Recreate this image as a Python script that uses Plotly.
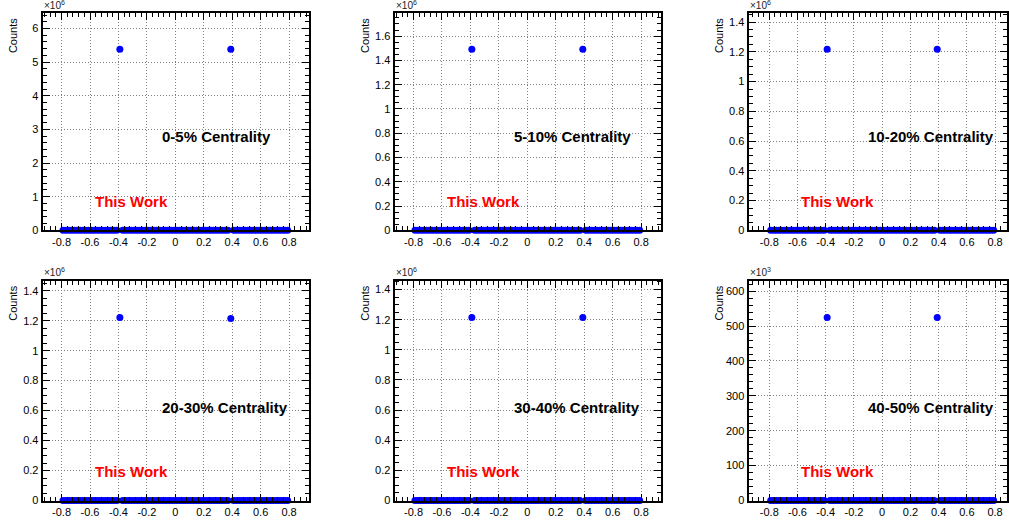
import plotly.graph_objects as go

# ---------------- data ----------------
x_bins = [-0.79, -0.77, -0.75, -0.73, -0.71, -0.69, -0.67, -0.65, -0.63, -0.61,
          -0.59, -0.57, -0.55, -0.53, -0.51, -0.49, -0.47, -0.45, -0.43, -0.41,
          -0.39, -0.37, -0.35, -0.33, -0.31, -0.29, -0.27, -0.25, -0.23, -0.21,
          -0.19, -0.17, -0.15, -0.13, -0.11, -0.09, -0.07, -0.05, -0.03, -0.01,
          0.01, 0.03, 0.05, 0.07, 0.09, 0.11, 0.13, 0.15, 0.17, 0.19,
          0.21, 0.23, 0.25, 0.27, 0.29, 0.31, 0.33, 0.35, 0.37, 0.39,
          0.41, 0.43, 0.45, 0.47, 0.49, 0.51, 0.53, 0.55, 0.57, 0.59,
          0.61, 0.63, 0.65, 0.67, 0.69, 0.71, 0.73, 0.75, 0.77, 0.79]

centrality_labels = ["0-5% Centrality", "5-10% Centrality", "10-20% Centrality",
                     "20-30% Centrality", "30-40% Centrality", "40-50% Centrality"]

peak_x = [-0.39, 0.39]
peak_counts_0_5 = [5.38e6, 5.38e6]
peak_counts_5_10 = [1.491e6, 1.491e6]
peak_counts_10_20 = [1.217e6, 1.217e6]
peak_counts_20_30 = [1.222e6, 1.215e6]
peak_counts_30_40 = [1.215e6, 1.215e6]
peak_counts_40_50 = [0.525e6, 0.525e6]
baseline_count = 0

peak_counts = [peak_counts_0_5, peak_counts_5_10, peak_counts_10_20,
               peak_counts_20_30, peak_counts_30_40, peak_counts_40_50]

y_exponent = [6, 6, 6, 6, 6, 3]
y_major_step = [1, 0.2, 0.2, 0.2, 0.2, 100]
y_minor_step = [0.2, 0.05, 0.05, 0.05, 0.05, 20]

x_tick_vals = [-0.8, -0.6, -0.4, -0.2, 0, 0.2, 0.4, 0.6, 0.8]
x_tick_text = ["-0.8", "-0.6", "-0.4", "-0.2", "0", "0.2", "0.4", "0.6", "0.8"]

# ---------------- layout geometry (pixels) ----------------
W, H = 1009, 525
cols = [(42.7, 309.3), (395.0, 661.7), (749.3, 1007.5)]
rows = [(13.3, 233.0), (284.0, 506.3)]
x_ranges = [[-0.933, 0.94], [-0.933, 0.94], [-0.947, 0.881]]

FONT = "Liberation Sans, Arial, Helvetica, sans-serif"

def px(x):
    return x / W

def py(y):
    return 1 - y / H

fig = go.Figure()
annotations = []
layout_axes = {}

for i in range(6):
    r, c = divmod(i, 3)
    idx = "" if i == 0 else str(i + 1)
    scale = 10 ** y_exponent[i]
    counts = [peak_counts[i][peak_x.index(x)] if x in peak_x else baseline_count
              for x in x_bins]
    fig.add_trace(go.Scatter(
        x=x_bins, y=[v / scale for v in counts], mode="markers",
        marker=dict(color="#0000ff", size=7, line=dict(width=0)),
        xaxis="x" + idx, yaxis="y" + idx, showlegend=False,
        hoverinfo="x+y", cliponaxis=False))

    ymax = 1.2 * max(peak_counts[i]) / scale

    common = dict(
        showline=True, linecolor="black", linewidth=2, mirror="ticks",
        ticks="inside", ticklen=7, tickwidth=1, tickcolor="black",
        showgrid=True, gridcolor="#808080", griddash="1px,2px", gridwidth=1,
        zeroline=False, fixedrange=True,
        tickfont=dict(family=FONT, size=11, color="black"),
    )
    layout_axes["xaxis" + idx] = dict(
        common, domain=[px(cols[c][0]), px(cols[c][1])], anchor="y" + idx,
        range=x_ranges[c], tickmode="array", tickvals=x_tick_vals,
        ticktext=x_tick_text,
        minor=dict(ticks="inside", ticklen=4, tickwidth=1, tickcolor="black",
                   tickmode="linear", tick0=-0.8, dtick=0.04, showgrid=False),
    )
    layout_axes["yaxis" + idx] = dict(
        common, domain=[py(rows[r][1]), py(rows[r][0])], anchor="x" + idx,
        range=[0, ymax], tickmode="linear", tick0=0, dtick=y_major_step[i],
        minor=dict(ticks="inside", ticklen=4, tickwidth=1, tickcolor="black",
                   tickmode="linear", tick0=0, dtick=y_minor_step[i],
                   showgrid=False),
    )

    # exponent label
    annotations.append(dict(
        text="×10<sup>%d</sup>" % y_exponent[i], xref="paper", yref="paper",
        x=px(cols[c][0] - 1), y=py(rows[r][0] - 0.5), xanchor="left",
        yanchor="bottom", showarrow=False,
        font=dict(family=FONT, size=10, color="#222")))
    # y title
    annotations.append(dict(
        text="Counts", textangle=-90, xref="paper", yref="paper",
        x=px(cols[c][0] - 29.7), y=py(rows[r][0] + 2.5), xanchor="center",
        yanchor="top", showarrow=False,
        font=dict(family=FONT, size=11, color="black")))
    # centrality label
    annotations.append(dict(
        text=centrality_labels[i], xref="paper", yref="paper",
        x=px(cols[c][0] + 117.3), y=py(138 if r == 0 else 412.5),
        xanchor="left", yanchor="middle", showarrow=False,
        font=dict(family=FONT, size=15, color="black", weight="bold")))
    # This Work
    annotations.append(dict(
        text="This Work", xref="paper", yref="paper",
        x=px(cols[c][0] + 50.6), y=py(204 if r == 0 else 477.3),
        xanchor="left", yanchor="middle", showarrow=False,
        font=dict(family=FONT, size=15, color="#ff0000", weight="bold")))

fig.update_layout(
    width=W, height=H, margin=dict(l=0, r=0, t=0, b=0),
    paper_bgcolor="white", plot_bgcolor="white",
    annotations=annotations, **layout_axes)

page_fix = (
    "document.documentElement.style.margin='0';"
    "document.documentElement.style.overflow='hidden';"
    "document.body.style.margin='0';"
    "document.body.style.width='%dpx';"
    "document.body.style.height='%dpx';"
    "document.body.style.overflow='hidden';"
    "var g=document.getElementById('{plot_id}');"
    "g.style.display='block';"
    "g.parentNode.style.height='%dpx';"
    "g.parentNode.style.overflow='hidden';" % (W, H, H)
)

fig.write_html("out.html", config={"displayModeBar": False},
               post_script=page_fix)
